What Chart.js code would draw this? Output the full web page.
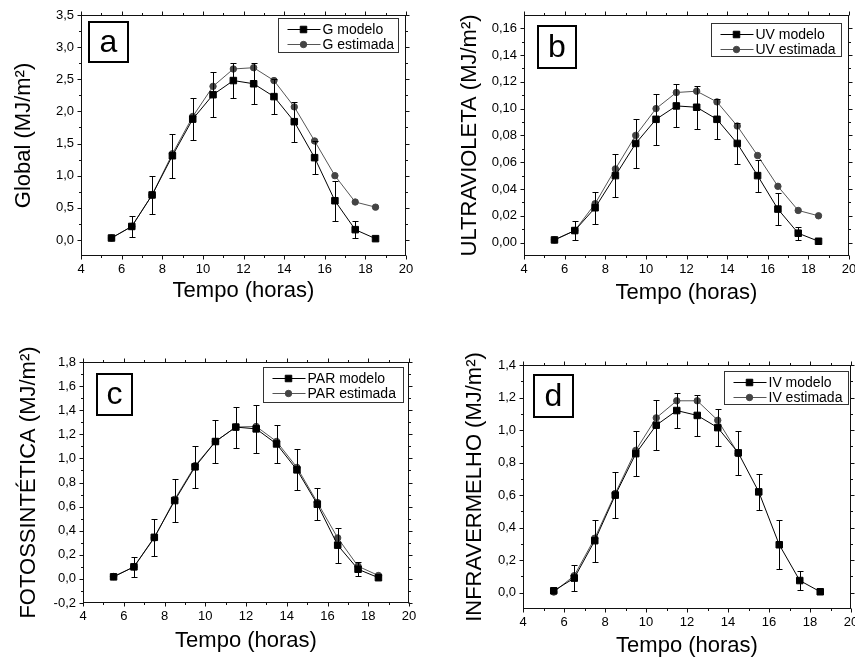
<!DOCTYPE html>
<html>
<head>
<meta charset="utf-8">
<script src="https://cdn.jsdelivr.net/npm/chart.js@4.4.1/dist/chart.umd.min.js"></script>
<style>
  html, body { margin: 0; padding: 0; background: #fff; overflow: hidden; width: 855px; height: 659px; }
  canvas { position: absolute; }
</style>
</head>
<body>
<canvas id="chartA" width="430" height="320" style="left:0;top:0"></canvas>
<canvas id="chartB" width="440" height="320" style="left:430px;top:0"></canvas>
<canvas id="chartC" width="430" height="339" style="left:0;top:320px"></canvas>
<canvas id="chartD" width="440" height="339" style="left:430px;top:320px"></canvas>
<script>
// horas do dia (centro de cada intervalo)
const horas = [5.5, 6.5, 7.5, 8.5, 9.5, 10.5, 11.5, 12.5, 13.5, 14.5, 15.5, 16.5, 17.5, 18.5];
const ticksX = [4, 6, 8, 10, 12, 14, 16, 18, 20];

// a - Global
const gModelo   = [0.03, 0.21, 0.70, 1.31, 1.88, 2.26, 2.48, 2.43, 2.23, 1.84, 1.28, 0.61, 0.16, 0.02];
const gEstimada = [0.03, 0.21, 0.70, 1.34, 1.92, 2.39, 2.66, 2.68, 2.48, 2.07, 1.54, 1.00, 0.59, 0.51];
const gErro     = [0, 0.17, 0.30, 0.34, 0.33, 0.35, 0.27, 0.32, 0.27, 0.31, 0.26, 0.31, 0.13, 0];
const ticksG    = [0, 0.5, 1.0, 1.5, 2.0, 2.5, 3.0, 3.5];

// b - Ultravioleta
const uvModelo   = [0.002, 0.009, 0.026, 0.050, 0.074, 0.092, 0.102, 0.101, 0.092, 0.074, 0.050, 0.025, 0.007, 0.001];
const uvEstimada = [0.002, 0.009, 0.029, 0.055, 0.080, 0.100, 0.112, 0.113, 0.105, 0.087, 0.065, 0.042, 0.024, 0.020];
const uvErro     = [0, 0.007, 0.012, 0.016, 0.018, 0.019, 0.016, 0.016, 0.015, 0.015, 0.012, 0.012, 0.005, 0];
const ticksUV    = [0, 0.02, 0.04, 0.06, 0.08, 0.10, 0.12, 0.14, 0.16];

// c - Fotossintética (PAR)
const parModelo   = [0.017, 0.10, 0.345, 0.65, 0.93, 1.14, 1.26, 1.245, 1.12, 0.905, 0.62, 0.28, 0.08, 0.01];
const parEstimada = [0.02, 0.10, 0.34, 0.66, 0.94, 1.14, 1.26, 1.265, 1.14, 0.925, 0.635, 0.34, 0.105, 0.028];
const parErro     = [0, 0.085, 0.155, 0.18, 0.175, 0.18, 0.17, 0.20, 0.16, 0.17, 0.135, 0.145, 0.06, 0];
const ticksPAR    = [-0.2, 0, 0.2, 0.4, 0.6, 0.8, 1.0, 1.2, 1.4, 1.6, 1.8];

// d - Infravermelho
const ivModelo   = [0.012, 0.09, 0.32, 0.60, 0.855, 1.03, 1.12, 1.09, 1.015, 0.86, 0.62, 0.295, 0.075, 0.006];
const ivEstimada = [0.004, 0.105, 0.335, 0.61, 0.875, 1.075, 1.18, 1.18, 1.06, 0.855, null, null, null, null];
const ivErro     = [0, 0.08, 0.13, 0.14, 0.14, 0.155, 0.11, 0.124, 0.114, 0.135, 0.11, 0.15, 0.058, 0];
const ticksIV    = [0, 0.2, 0.4, 0.6, 0.8, 1.0, 1.2, 1.4];

const FONTE = '"Liberation Sans", Arial, Helvetica, sans-serif';

const pontos = (ys) => horas.map((h, i) => ({ x: h, y: ys[i] }));
const virgula = (casas) => (v) => v.toFixed(casas).replace('.', ',');

// moldura em volta do gráfico com marcas maiores e menores para fora
const moldura = {
  id: 'moldura',
  afterDraw(chart) {
    const { ctx, chartArea: a, scales: { x, y } } = chart;
    const L = Math.round(a.left) + 0.5, R = Math.round(a.right) - 0.5;
    const T = Math.round(a.top) + 0.5, B = Math.round(a.bottom) - 0.5;
    ctx.save();
    ctx.strokeStyle = '#111';
    ctx.lineWidth = 1;
    ctx.strokeRect(L, T, R - L, B - T);

    const marcas = (scale) => {
      const maj = scale.ticks.map(t => t.value);
      const passo = maj[1] - maj[0];
      const min = [];
      for (let i = 0; i < maj.length - 1; i++) min.push((maj[i] + maj[i + 1]) / 2);
      if (maj[0] - passo / 2 > scale.min + 1e-9) min.push(maj[0] - passo / 2);
      if (maj[maj.length - 1] + passo / 2 < scale.max - 1e-9) min.push(maj[maj.length - 1] + passo / 2);
      return [maj.map(v => [v, 4]), min.map(v => [v, 2.5])].flat();
    };

    ctx.beginPath();
    marcas(x).forEach(([v, len]) => {
      const px = Math.round(x.getPixelForValue(v)) + 0.5;
      ctx.moveTo(px, B); ctx.lineTo(px, B + len);
      ctx.moveTo(px, T); ctx.lineTo(px, T - len);
    });
    marcas(y).forEach(([v, len]) => {
      const py = Math.round(y.getPixelForValue(v)) + 0.5;
      ctx.moveTo(L, py); ctx.lineTo(L - len, py);
      ctx.moveTo(R, py); ctx.lineTo(R + len, py);
    });
    ctx.stroke();
    ctx.restore();
  }
};

// barras de erro na série do modelo
const barras = {
  id: 'barras',
  afterDatasetsDraw(chart, args, opts) {
    const { ctx, scales: { x, y } } = chart;
    const dados = chart.data.datasets[0].data;
    ctx.save();
    ctx.strokeStyle = '#000';
    ctx.lineWidth = 1;
    ctx.beginPath();
    opts.erros.forEach((e, i) => {
      if (!e) return;
      const px = Math.round(x.getPixelForValue(dados[i].x)) + 0.5;
      const y1 = Math.round(y.getPixelForValue(dados[i].y + e)) + 0.5;
      const y2 = Math.round(y.getPixelForValue(dados[i].y - e)) + 0.5;
      ctx.moveTo(px, y1); ctx.lineTo(px, y2);
      ctx.moveTo(px - 3, y1); ctx.lineTo(px + 3, y1);
      ctx.moveTo(px - 3, y2); ctx.lineTo(px + 3, y2);
    });
    ctx.stroke();
    ctx.restore();
  }
};

// caixa com a letra do painel e legenda com moldura
const caixas = {
  id: 'caixas',
  afterDraw(chart, args, opts) {
    const { ctx, chartArea: a } = chart;
    ctx.save();

    const lx = Math.round(a.left + opts.letra.dx), ly = Math.round(a.top + opts.letra.dy);
    ctx.strokeStyle = '#000';
    ctx.lineWidth = 2;
    ctx.strokeRect(lx + 1, ly + 1, opts.letra.w - 2, opts.letra.h - 2);
    ctx.fillStyle = '#000';
    ctx.font = '32px ' + FONTE;
    ctx.textAlign = 'center';
    ctx.textBaseline = 'middle';
    ctx.fillText(opts.letra.texto, lx + opts.letra.w / 2, ly + opts.letra.h / 2 + 1);

    const g = opts.legenda;
    const gx = Math.round(a.right - g.dx - g.w) + 0.5, gy = Math.round(a.top + g.dy) + 0.5;
    ctx.lineWidth = 1;
    ctx.strokeStyle = '#333';
    ctx.strokeRect(gx, gy, g.w, g.h);
    ctx.font = '14px ' + FONTE;
    ctx.textAlign = 'left';
    chart.data.datasets.forEach((ds, i) => {
      const ry = Math.round(gy + 10 + i * 15) + 0.5;
      ctx.strokeStyle = ds.borderColor;
      ctx.beginPath();
      ctx.moveTo(gx + 9, ry); ctx.lineTo(gx + 42, ry);
      ctx.stroke();
      ctx.fillStyle = ds.pointBackgroundColor;
      ctx.strokeStyle = ds.pointBorderColor;
      Chart.helpers.drawPoint(ctx, { pointStyle: ds.pointStyle, radius: ds.pointRadius, rotation: 0, borderWidth: 1 }, gx + 25, ry);
      ctx.fillStyle = '#000';
      ctx.fillText(ds.label, gx + 44, ry + 1);
    });
    ctx.restore();
  }
};

function painel(id, p) {
  return new Chart(document.getElementById(id), {
    type: 'scatter',
    data: {
      datasets: [{
        label: p.nomes[0],
        data: pontos(p.modelo),
        showLine: true,
        borderColor: '#000',
        borderWidth: 1,
        pointStyle: 'rect',
        pointRadius: 4.6,
        pointBackgroundColor: '#000',
        pointBorderColor: '#000',
        pointBorderWidth: 1
      }, {
        label: p.nomes[1],
        data: pontos(p.estimada),
        showLine: true,
        spanGaps: false,
        borderColor: '#555',
        borderWidth: 1,
        pointStyle: 'circle',
        pointRadius: 3.2,
        pointBackgroundColor: '#444',
        pointBorderColor: '#444',
        pointBorderWidth: 1
      }]
    },
    options: {
      responsive: false,
      animation: false,
      events: [],
      layout: { padding: { left: 0, top: p.area.top, right: p.area.right, bottom: 0 } },
      scales: {
        x: {
          type: 'linear',
          min: 4, max: 20,
          afterBuildTicks: (s) => { s.ticks = ticksX.map(v => ({ value: v })); },
          afterFit: (s) => { s.height = p.area.xAltura; },
          grid: { display: false, drawTicks: false },
          border: { display: false },
          ticks: { padding: 6, color: '#000', font: { family: FONTE, size: 13 } },
          title: {
            display: true, text: 'Tempo (horas)', color: '#000',
            font: { family: FONTE, size: 22 },
            padding: { top: 0, bottom: p.area.xTitulo }
          }
        },
        y: {
          type: 'linear',
          min: p.y.min, max: p.y.max,
          afterBuildTicks: (s) => { s.ticks = p.y.ticks.map(v => ({ value: v })); },
          afterFit: (s) => { s.width = p.area.yLargura; },
          grid: { display: false, drawTicks: false },
          border: { display: false },
          ticks: {
            padding: 7, color: '#000',
            font: { family: FONTE, size: 13 },
            callback: virgula(p.y.casas)
          },
          title: {
            display: true, text: p.tituloY, color: '#000',
            font: { family: FONTE, size: 22 },
            padding: { top: p.area.yTitulo, bottom: 0 }
          }
        }
      },
      plugins: {
        legend: { display: false },
        tooltip: { enabled: false },
        barras: { erros: p.erro },
        caixas: { letra: p.letra, legenda: p.legenda }
      }
    },
    plugins: [moldura, barras, caixas]
  });
}

painel('chartA', {
  nomes: ['G modelo', 'G estimada'], modelo: gModelo, estimada: gEstimada, erro: gErro,
  tituloY: 'Global (MJ/m²)',
  y: { min: -0.25, max: 3.5, ticks: ticksG, casas: 1 },
  area: { top: 15, right: 24, yLargura: 81, xAltura: 64, yTitulo: 10.8, xTitulo: 15.8 },
  letra: { texto: 'a', dx: 7, dy: 6, w: 41, h: 42 },
  legenda: { dx: 8, dy: 3, w: 120, h: 34 }
});

painel('chartB', {
  nomes: ['UV modelo', 'UV estimada'], modelo: uvModelo, estimada: uvEstimada, erro: uvErro,
  tituloY: 'ULTRAVIOLETA (MJ/m²)',
  y: { min: -0.01, max: 0.17, ticks: ticksUV, casas: 2 },
  area: { top: 14, right: 21, yLargura: 94, xAltura: 64, yTitulo: 26.8, xTitulo: 14.3 },
  letra: { texto: 'b', dx: 13, dy: 10, w: 40, h: 44 },
  legenda: { dx: 8, dy: 8, w: 130, h: 33 }
});

painel('chartC', {
  nomes: ['PAR modelo', 'PAR estimada'], modelo: parModelo, estimada: parEstimada, erro: parErro,
  tituloY: 'FOTOSSINTÉTICA (MJ/m²)',
  y: { min: -0.2, max: 1.8, ticks: ticksPAR, casas: 1 },
  area: { top: 42, right: 21, yLargura: 83, xAltura: 56, yTitulo: 15.8, xTitulo: 4.8 },
  letra: { texto: 'c', dx: 13, dy: 11, w: 37, h: 43 },
  legenda: { dx: 6, dy: 5, w: 140, h: 35 }
});

painel('chartD', {
  nomes: ['IV modelo', 'IV estimada'], modelo: ivModelo, estimada: ivEstimada, erro: ivErro,
  tituloY: 'INFRAVERMELHO (MJ/m²)',
  y: { min: -0.1, max: 1.4, ticks: ticksIV, casas: 1 },
  area: { top: 45, right: 19, yLargura: 93, xAltura: 50, yTitulo: 31.8, xTitulo: 0.3 },
  letra: { texto: 'd', dx: 10, dy: 9, w: 41, h: 44 },
  legenda: { dx: 3, dy: 6, w: 124, h: 33 }
});
</script>
</body>
</html>
